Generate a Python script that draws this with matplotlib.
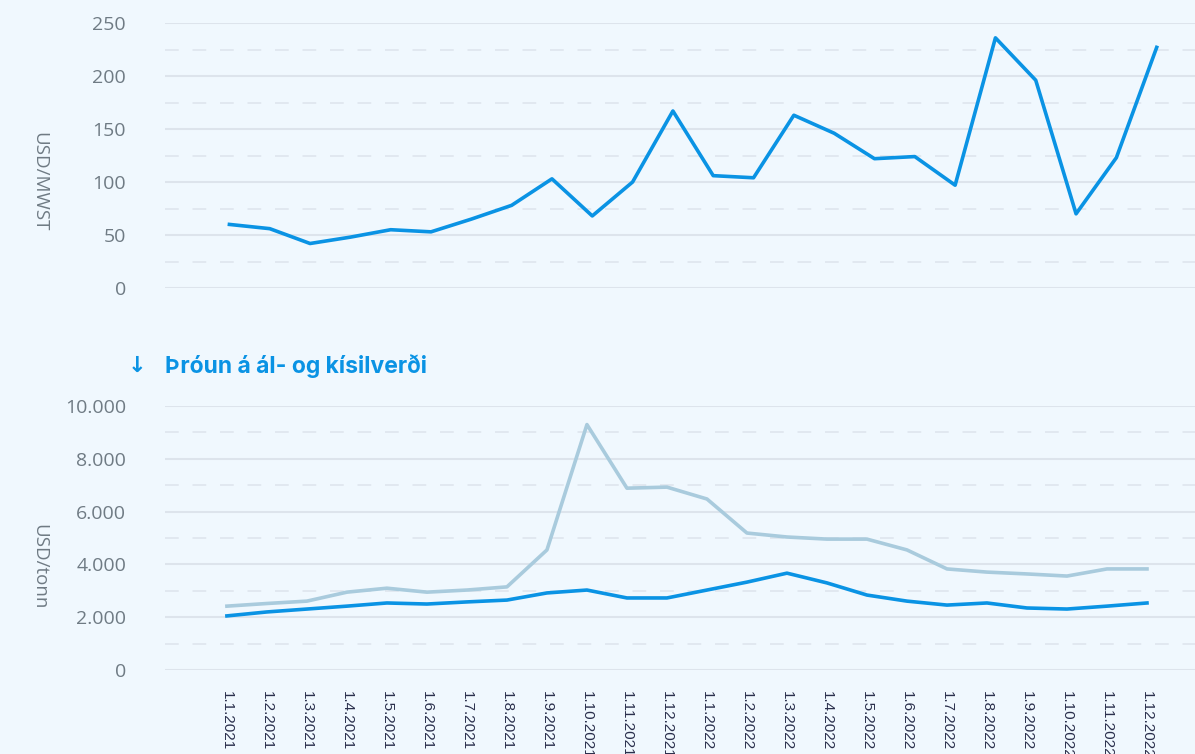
import matplotlib.pyplot as plt
import numpy as np

dates = ['1.1.2021', '1.2.2021', '1.3.2021', '1.4.2021', '1.5.2021', '1.6.2021',
         '1.7.2021', '1.8.2021', '1.9.2021', '1.10.2021', '1.11.2021', '1.12.2021',
         '1.1.2022', '1.2.2022', '1.3.2022', '1.4.2022', '1.5.2022', '1.6.2022',
         '1.7.2022', '1.8.2022', '1.9.2022', '1.10.2022', '1.11.2022', '1.12.2022']

power = [60, 56, 42, 48, 55, 53, 65, 78, 103, 68, 100, 167,
         106, 104, 163, 146, 122, 124, 97, 236, 196, 70, 123, 227]

silicon = [2420, 2520, 2610, 2950, 3100, 2950, 3030, 3150, 4550, 9300, 6890, 6930,
           6480, 5190, 5040, 4960, 4960, 4550, 3830, 3710, 3640, 3560, 3830, 3830]

aluminium = [2050, 2200, 2310, 2420, 2540, 2500, 2580, 2650, 2920, 3030, 2730, 2730,
             3030, 3330, 3670, 3300, 2840, 2610, 2460, 2540, 2350, 2310, 2420, 2540]

bg = '#f0f8fe'
blue = '#0a93e4'
light = '#a9cbdd'
grid_c = '#dde4ec'
tick_c = '#6f7b84'

plt.rcParams['font.family'] = ['Liberation Sans', 'DejaVu Sans']

fig = plt.figure(figsize=(11.95, 7.54), dpi=100, facecolor=bg)
ax1 = fig.add_axes([0.138, 0.618, 0.862, 0.3515])
ax2 = fig.add_axes([0.138, 0.1114, 0.862, 0.350])

x = np.arange(len(dates))


def style(ax, major, minor):
    ax.set_facecolor(bg)
    for s in ax.spines.values():
        s.set_visible(False)
    for v in major:
        ax.axhline(v, color=grid_c, lw=1.5, zorder=0)
    for v in minor:
        ax.axhline(v, color=grid_c, lw=1.1, ls=(0, (9, 9)), zorder=0)
    ax.set_yticks(major)
    ax.tick_params(axis='y', length=0, pad=28, labelsize=14, labelcolor=tick_c)
    for t in ax.get_yticklabels():
        t.set_family(['Open Sans', 'DejaVu Sans'])


style(ax1, [0, 50, 100, 150, 200, 250], [25, 75, 125, 175, 225])
ax1.plot(x, power, color=blue, lw=2.6, clip_on=False, zorder=3)
ax1.set_ylim(0, 250)
ax1.set_xlim(-1.6, 23.95)
ax1.set_xticks([])
ax1.set_ylabel('USD/MWST', rotation=-90, color=tick_c, fontsize=13.5,
               family=['Open Sans', 'DejaVu Sans'])
ax1.yaxis.set_label_coords(-0.131, 0.40)

style(ax2, [0, 2000, 4000, 6000, 8000, 10000], [1000, 3000, 5000, 7000, 9000])
ax2.set_yticklabels(['0', '2.000', '4.000', '6.000', '8.000', '10.000'],
                    family=['Open Sans', 'DejaVu Sans'])
ax2.plot(x, silicon, color=light, lw=2.6, clip_on=False, zorder=3)
ax2.plot(x, aluminium, color=blue, lw=2.6, clip_on=False, zorder=4)
ax2.set_ylim(0, 10000)
ax2.set_xlim(-1.55, 24.2)
ax2.set_xticks(x)
ax2.set_xticklabels(dates, rotation=-90, fontsize=11, color='#2a2f4c', va='top', ha='center')
ax2.tick_params(axis='x', length=0, pad=15)
ax2.set_ylabel('USD/tonn', rotation=-90, color=tick_c, fontsize=13.5,
               family=['Open Sans', 'DejaVu Sans'])
ax2.yaxis.set_label_coords(-0.131, 0.39)

fig.text(0.107, 0.515, '\u2193', color=blue, fontsize=16, fontweight='bold',
         family=['DejaVu Sans'], va='center')
fig.text(0.138, 0.515, 'Þróun á ál- og kísilverði', color=blue, fontsize=16.5,
         fontweight='bold', family=['Inter', 'Open Sans', 'DejaVu Sans'], va='center')

fig.savefig('out.png', dpi=100, facecolor=bg)
